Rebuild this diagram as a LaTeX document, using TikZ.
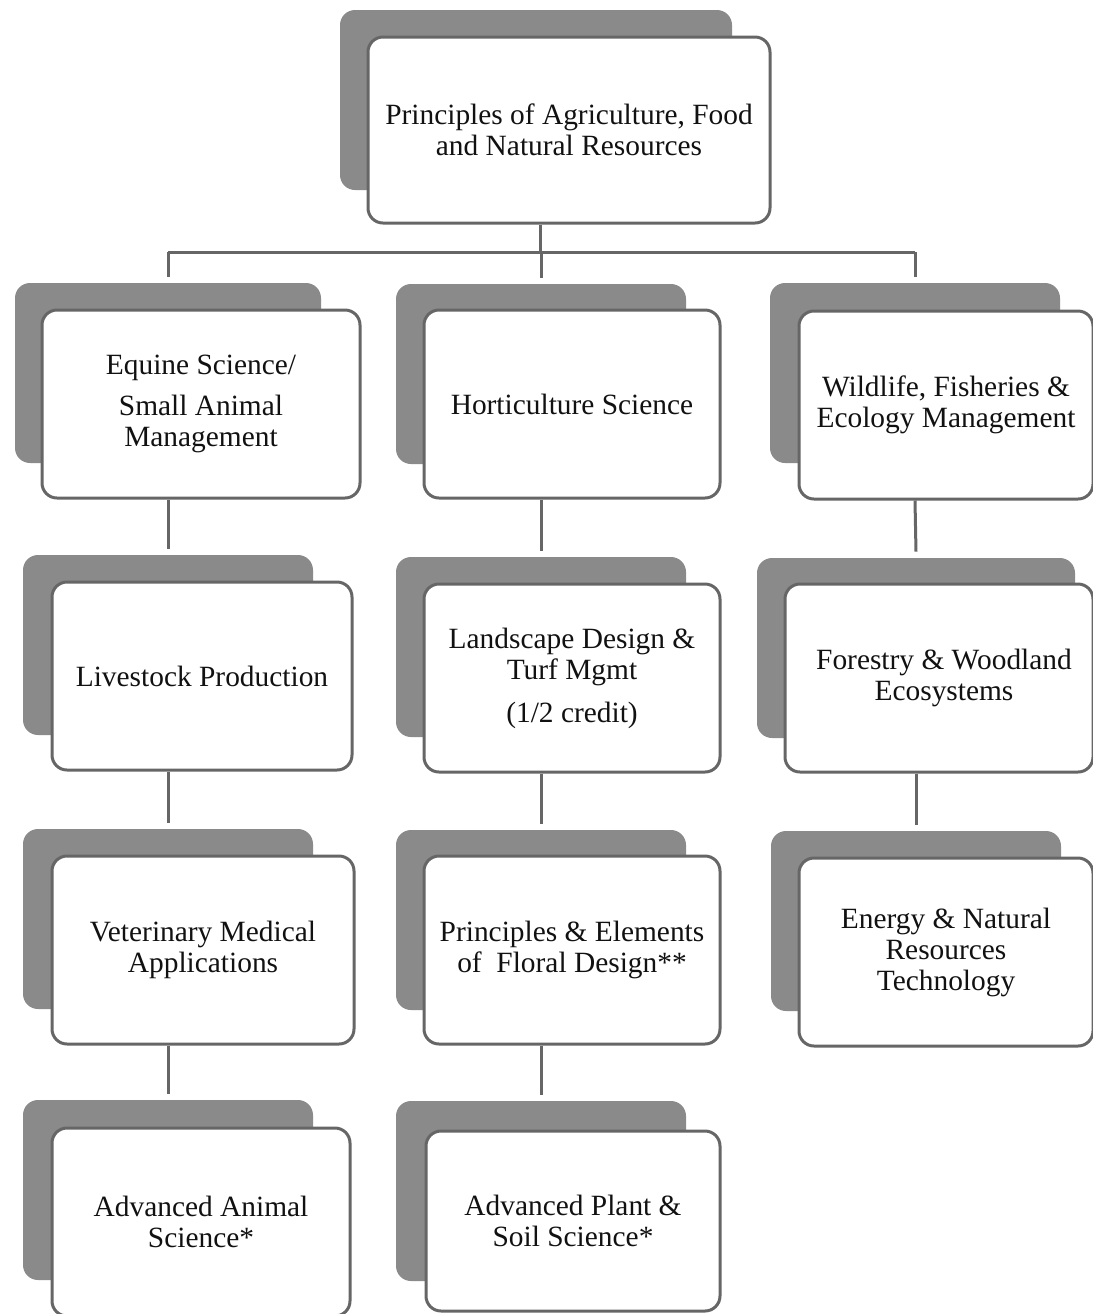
\documentclass[tikz,border=0pt]{standalone}
\usepackage{fontspec}
\setmainfont{Liberation Serif}
\usetikzlibrary{positioning}

\definecolor{backgray}{HTML}{8A8A8A}
\definecolor{edgegray}{HTML}{666666}
\definecolor{inkgray}{HTML}{111111}

\tikzset{
  card/.style={draw=edgegray, line width=1.5pt, fill=white, rounded corners=7.5pt,
    minimum width=150pt, minimum height=94pt, align=center, text=inkgray,
    font=\fontsize{14.7}{15.5}\selectfont},
  backcard/.style={fill=backgray, rounded corners=7.5pt,
    minimum width=145pt, minimum height=90pt},
  link/.style={draw=edgegray, line width=1.5pt}
}

\begin{document}
\begin{tikzpicture}[x=0.5pt,y=-0.5pt]
\useasboundingbox (0,0) rectangle (1093,1314);

% top box
\node[backcard, minimum width=196pt] (top-back) at (536,100) {};
\node[card, minimum width=201pt, minimum height=93pt] (top) at (569,130)
  {Principles of Agriculture, Food\\and Natural Resources};

% first row
\node[backcard, minimum width=153pt] (equine-back) at (168,373) {};
\node[card, minimum width=159pt] (equine) at (201,404)
  {Equine Science/\\[5pt]Small Animal\\Management};
\node[backcard] (horti-back) at (541,374) {};
\node[card, minimum width=148pt] (horti) at (572,404) {Horticulture Science};
\node[backcard] (wildlife-back) at (915,373) {};
\node[card, minimum width=147pt] (wildlife) at (946,405)
  {Wildlife, Fisheries \&\\Ecology Management};

% second row
\node[backcard] (livestock-back) at (168,645) {};
\node[card] (livestock) at (202,676) {Livestock Production};
\node[backcard] (landscape-back) at (541,647) {};
\node[card, minimum width=148pt] (landscape) at (572,678)
  {Landscape Design \&\\Turf Mgmt\\[6pt](1/2 credit)};
\node[backcard, minimum width=159pt] (forestry-back) at (916,648) {};
\node[card, minimum width=154pt] (forestry) at (939,678)
  {\hspace*{5pt}Forestry \& Woodland\\\hspace*{5pt}Ecosystems};

% third row
\node[backcard] (vet-back) at (168,919) {};
\node[card, minimum width=151pt] (vet) at (203,950)
  {Veterinary Medical\\Applications};
\node[backcard] (floral-back) at (541,920) {};
\node[card, minimum width=148pt] (floral) at (572,950)
  {Principles \& Elements\\of\ \ Floral Design**};
\node[backcard] (energy-back) at (916,921) {};
\node[card, minimum width=147pt] (energy) at (946,952)
  {Energy \& Natural\\Resources\\Technology};

% fourth row
\node[backcard] (animal-back) at (168,1190) {};
\node[card, minimum width=149pt] (animal) at (201,1222)
  {Advanced Animal\\Science*};
\node[backcard] (plant-back) at (541,1191) {};
\node[card, minimum width=147pt, minimum height=90pt] (plant) at (573,1221)
  {Advanced Plant \&\\Soil Science*};

% connectors
\coordinate (bar) at (540,252);
\draw[link] (bar |- top.south) -- (bar);
\draw[link] (equine-back.north |- bar) -- (wildlife-back.north |- bar);
\foreach \n in {equine,horti,wildlife}
  \draw[link] (\n-back.north |- bar) -- ([yshift=3pt]\n-back.north);

\draw[link] (equine-back.north |- equine.south) -- ([yshift=3pt]livestock-back.north);
\draw[link] (livestock-back.north |- livestock.south) -- ([yshift=3pt]vet-back.north);
\draw[link] (vet-back.north |- vet.south) -- ([yshift=3pt]animal-back.north);

\draw[link] (horti-back.north |- horti.south) -- ([yshift=3pt]landscape-back.north);
\draw[link] (landscape-back.north |- landscape.south) -- ([yshift=3pt]floral-back.north);
\draw[link] (floral-back.north |- floral.south) -- ([yshift=3pt]plant-back.north);

\draw[link] (wildlife-back.north |- wildlife.south) -- ([yshift=3pt]forestry-back.north);
\draw[link] (forestry-back.north |- forestry.south) -- ([yshift=3pt]energy-back.north);
\end{tikzpicture}
\end{document}
